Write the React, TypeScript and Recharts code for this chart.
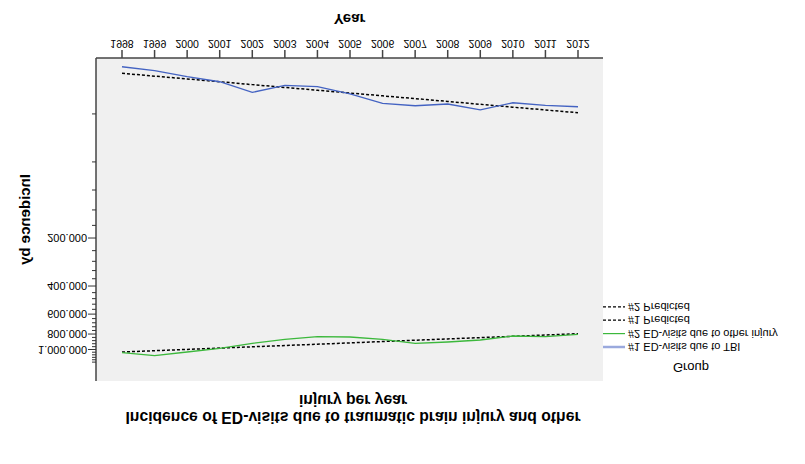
import React from 'react';
import { LineChart, Line, XAxis, YAxis, CartesianGrid } from 'recharts';

// the reference is drawn upside down (vertical mirror), so the whole chart is flipped with CSS
const years = ['1998', '1999', '2000', '2001', '2002', '2003', '2004', '2005', '2006', '2007', '2008', '2009', '2010', '2011', '2012'];
const tbiVisits = [16870, 17870, 19480, 20950, 24420, 22070, 22510, 25000, 28600, 29630, 28900, 31400, 28380, 29440, 30060];
const otherVisits = [1047000, 1094000, 1037000, 983000, 914700, 863300, 831500, 835100, 863300, 914700, 897600, 872100, 823200, 831500, 803400];
const tbiPredicted = [18550, 19320, 20120, 20950, 21840, 22750, 23680, 24660, 25680, 26730, 27840, 29030, 30230, 31480, 32770];
const otherPredicted = [1037000, 1017600, 998600, 980000, 961800, 944100, 926500, 909400, 891200, 874700, 858300, 842500, 826800, 811500, 796200];

const majorTicks = [200000, 400000, 600000, 800000, 1000000];
const majorLabels = ['200.000', '400.000', '600.000', '800.000', '1.000.000'];
const minorTicks = [
  33333, 66667, 100000, 133333, 166667,
  240000, 280000, 320000, 360000,
  440000, 480000, 520000, 560000,
  640000, 680000, 720000, 760000,
  840000, 880000, 920000, 960000,
  1040000, 1080000, 1120000, 1160000, 1200000,
];

const legendItems = [
  { label: '#1 ED-visits due to TBI', color: '#9aa9dd', width: 2.5, dash: undefined },
  { label: '#2 ED-visits due to other injury', color: '#3cb83c', width: 1.2, dash: undefined },
  { label: '#1 Predicted', color: '#000', width: 1.2, dash: '3 2' },
  { label: '#2 Predicted', color: '#000', width: 1.2, dash: '3 2' },
];

const data = years.map((year, i) => ({
  year,
  tbi: tbiVisits[i],
  other: otherVisits[i],
  tbiPred: tbiPredicted[i],
  otherPred: otherPredicted[i],
}));

const FONT = '"Liberation Sans", Arial, sans-serif';

const YTick = ({ x, y, payload }: any) => {
  const idx = majorTicks.indexOf(payload.value);
  const major = idx >= 0;
  return (
    <g>
      <line x1={x - (major ? 8 : 4)} x2={x} y1={y} y2={y} stroke="#333" />
      {major && (
        <text x={x - 9} y={y} dy={4} textAnchor="end" fontSize={11} fill="#000">
          {majorLabels[idx]}
        </text>
      )}
    </g>
  );
};

const YTitle = ({ viewBox }: any) => {
  const cx = viewBox.x + 14;
  const cy = viewBox.y + viewBox.height / 2;
  return (
    <text x={cx} y={cy} transform={`rotate(-90 ${cx} ${cy})`} textAnchor="middle" fontSize={15} fontWeight="bold" fill="#000">
      Incidence by
    </text>
  );
};

const XTitle = ({ viewBox }: any) => {
  const cx = viewBox.x + viewBox.width / 2;
  return (
    <text x={cx} y={viewBox.y + 44} textAnchor="middle" fontSize={15} fontWeight="bold" fill="#000">
      Year
    </text>
  );
};

export default function App() {
  return (
    <div
      style={{
        position: 'absolute',
        left: 0,
        top: 0,
        width: 805,
        height: 464,
        background: '#fff',
        transform: 'scaleY(-1)',
        fontFamily: FONT,
      }}
    >
      <div
        style={{
          position: 'absolute',
          left: 53,
          top: 38,
          width: 600,
          textAlign: 'center',
          fontSize: 15.7,
          fontWeight: 'bold',
          lineHeight: '17px',
        }}
      >
        Incidence of ED-visits due to traumatic brain injury and other
        <br />
        injury per year
      </div>

      <LineChart width={805} height={464} data={data} margin={{ top: 83, right: 202, bottom: 8, left: 16 }}>
        <CartesianGrid horizontal={false} vertical={false} fill="#f0f0f0" />
        <XAxis
          dataKey="year"
          height={50}
          padding={{ left: 26, right: 25 }}
          interval={0}
          tickSize={8}
          tickMargin={3}
          stroke="#444"
          strokeWidth={1.5}
          tick={{ fontSize: 10.5, fill: '#000' }}
          label={<XTitle />}
        />
        <XAxis xAxisId="top" orientation="top" dataKey="year" height={0} tick={false} tickLine={false} stroke="#555" strokeWidth={1.5} />
        <YAxis
          scale="log"
          type="number"
          domain={[14870, 1576000]}
          allowDataOverflow
          ticks={[...minorTicks, ...majorTicks].sort((a, b) => a - b)}
          interval={0}
          width={80}
          tickSize={0}
          tickMargin={0}
          tickLine={false}
          stroke="#444"
          strokeWidth={1.5}
          tick={<YTick />}
          label={<YTitle />}
        />
        <YAxis yAxisId="right" orientation="right" width={0} domain={[0, 1]} tick={false} tickLine={false} stroke="#555" strokeWidth={1.5} />
        <Line dataKey="tbiPred" stroke="#000" strokeWidth={1.5} strokeDasharray="3 2" dot={false} isAnimationActive={false} />
        <Line dataKey="otherPred" stroke="#000" strokeWidth={1.5} strokeDasharray="3 2" dot={false} isAnimationActive={false} />
        <Line dataKey="tbi" stroke="#4463c2" strokeWidth={1.3} dot={false} isAnimationActive={false} />
        <Line dataKey="other" stroke="#3cb83c" strokeWidth={1.3} dot={false} isAnimationActive={false} />
      </LineChart>

      <svg style={{ position: 'absolute', left: 600, top: 80, overflow: 'visible' }} width={205} height={90}>
        <text x={91} y={21} textAnchor="middle" fontSize={13} fill="#000">
          Group
        </text>
        {legendItems.map((item, i) => {
          const cy = 37 + i * 13.4;
          return (
            <g key={item.label}>
              <line x1={3} x2={25} y1={cy} y2={cy} stroke={item.color} strokeWidth={item.width} strokeDasharray={item.dash} />
              <text x={28} y={cy + 4} fontSize={11} fill="#000">
                {item.label}
              </text>
            </g>
          );
        })}
      </svg>
    </div>
  );
}
